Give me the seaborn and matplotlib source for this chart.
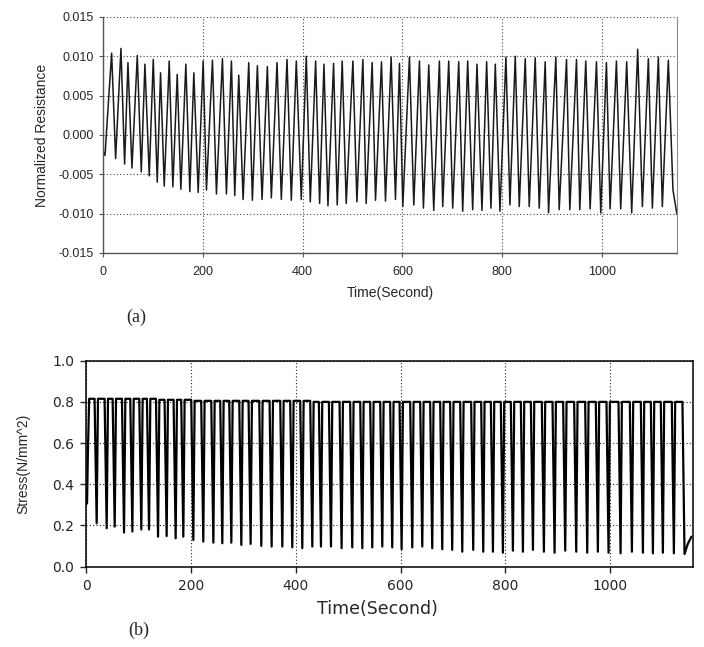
import matplotlib
matplotlib.use("Agg")
import matplotlib.pyplot as plt
import pandas as pd
import seaborn as sns
from matplotlib.ticker import FormatStrFormatter

# ─── DATA ───────────────────────────────────────────────────────────────────
# (a) normalized resistance: cycle peaks and troughs
res_peak_t = [17.3, 36, 50, 68.7, 84, 100.7, 115.3, 132.7, 148.7, 166,
              182, 200.7, 219.3, 239.3, 257.3, 272, 292, 309.3, 329.3, 348.7,
              368.7, 387.3, 407.3, 426, 442.7, 462, 479.3, 500.7, 520.7, 539.3,
              558, 577.3, 594, 614, 634, 652.7, 674, 692.7, 712.7, 730.7,
              749.3, 768.7, 786, 807.3, 826, 846, 866, 886, 907.3, 928.7,
              948.7, 967.3, 988.7, 1008.7, 1028.7, 1049.3, 1071.3, 1092.7, 1112.7, 1132.7]
res_peak_v = [0.0104, 0.0110, 0.0092, 0.0101, 0.0090, 0.0096, 0.0079, 0.0094, 0.0077, 0.0090,
              0.0079, 0.0094, 0.0095, 0.0097, 0.0094, 0.0076, 0.0092, 0.0088, 0.0087, 0.0092,
              0.0096, 0.0094, 0.0100, 0.0094, 0.0090, 0.0091, 0.0094, 0.0094, 0.0096, 0.0092,
              0.0093, 0.0099, 0.0091, 0.0099, 0.0094, 0.0089, 0.0094, 0.0094, 0.0093, 0.0094,
              0.0090, 0.0093, 0.0090, 0.0099, 0.0100, 0.0097, 0.0098, 0.0093, 0.0099, 0.0096,
              0.0096, 0.0094, 0.0093, 0.0092, 0.0094, 0.0093, 0.0109, 0.0097, 0.0099, 0.0095]
res_trough_t = [25.3, 43.3, 58, 76.7, 92.7, 108.7, 122.7, 140, 156, 174,
                190.7, 207.3, 227.3, 247.3, 264, 280.7, 299.3, 318.7, 337.3, 357.3,
                377.3, 397.3, 415.3, 434, 450.7, 469.3, 487.3, 508.7, 527.3, 546,
                566, 586, 600.7, 622.7, 642, 662.7, 680.7, 700.7, 720.7, 740.7,
                759.3, 777.3, 795.3, 815.3, 834, 854, 874, 892.7, 914, 935.3,
                955.3, 976, 997.3, 1016, 1037.3, 1059.3, 1080.7, 1100.7, 1120.7]
res_trough_v = [-0.0030, -0.0037, -0.0042, -0.0047, -0.0052, -0.0060, -0.0065, -0.0066, -0.0069, -0.0072,
                -0.0073, -0.0070, -0.0075, -0.0075, -0.0077, -0.0082, -0.0083, -0.0082, -0.0080, -0.0082,
                -0.0083, -0.0082, -0.0085, -0.0087, -0.0090, -0.0089, -0.0087, -0.0085, -0.0087, -0.0083,
                -0.0084, -0.0082, -0.0091, -0.0089, -0.0093, -0.0096, -0.0091, -0.0093, -0.0097, -0.0095,
                -0.0096, -0.0093, -0.0097, -0.0089, -0.0091, -0.0091, -0.0093, -0.0099, -0.0095, -0.0095,
                -0.0095, -0.0094, -0.0099, -0.0094, -0.0094, -0.0099, -0.0091, -0.0093, -0.0091]
res_start_t = [0.0, 4.0]
res_start_v = [-0.0020, -0.0026]
res_end_t = [1142.0, 1150.0]
res_end_v = [-0.0070, -0.0101]

# (b) stress: unloading dips and the loaded plateau of each cycle
stress_dip_t = [20.3, 39.4, 54.7, 72.5, 88.4, 105.5, 120.2, 137.4, 153.8, 171.0,
                185.6, 204.7, 223.7, 242.9, 260.0, 277.2, 296.3, 314.0, 334.4, 354.1,
                374.5, 393.5, 412.6, 431.7, 448.2, 467.3, 487.6, 507.9, 527.1, 546.1,
                565.2, 584.2, 602.1, 622.4, 641.5, 660.5, 679.6, 698.6, 717.8, 738.7,
                757.8, 776.3, 795.3, 814.4, 833.5, 852.6, 873.5, 893.9, 914.2, 935.2,
                956.2, 976.5, 996.9, 1019.8, 1041.4, 1062.4, 1081.5, 1100.5, 1121.5, 1141.8]
stress_dip_v = [0.210, 0.186, 0.194, 0.165, 0.170, 0.180, 0.180, 0.145, 0.148, 0.137,
                0.145, 0.129, 0.121, 0.116, 0.113, 0.116, 0.105, 0.110, 0.100, 0.097,
                0.097, 0.093, 0.089, 0.097, 0.097, 0.097, 0.089, 0.093, 0.089, 0.093,
                0.097, 0.093, 0.084, 0.093, 0.097, 0.089, 0.084, 0.081, 0.072, 0.081,
                0.072, 0.072, 0.067, 0.077, 0.072, 0.081, 0.072, 0.067, 0.077, 0.072,
                0.067, 0.072, 0.067, 0.064, 0.072, 0.067, 0.064, 0.067, 0.064, 0.061]
stress_top = [0.815, 0.815, 0.815, 0.815, 0.815, 0.815, 0.815, 0.815, 0.810, 0.810,
              0.810, 0.810, 0.805, 0.805, 0.805, 0.805, 0.805, 0.805, 0.805, 0.805,
              0.805, 0.805, 0.805, 0.805, 0.800, 0.800, 0.800, 0.800, 0.800, 0.800,
              0.800, 0.800, 0.800, 0.800, 0.800, 0.800, 0.800, 0.800, 0.800, 0.800,
              0.800, 0.800, 0.800, 0.800, 0.800, 0.800, 0.800, 0.800, 0.800, 0.800,
              0.800, 0.800, 0.800, 0.800, 0.800, 0.800, 0.800, 0.800, 0.800, 0.800]
stress_start_t = [0.0, 2.0, 3.5, 6.0]
stress_start_v = [0.30, 0.31, 0.55, 0.815]
stress_end_t = [1148.0, 1155.0]
stress_end_v = [0.11, 0.145]

RISE_S = 2.5   # seconds from dip up to the plateau
FALL_S = 4.0   # seconds from plateau down to the dip
# ─────────────────────────────────────────────────────────────────────────────


def resistance_trace():
    t, v = list(res_start_t), list(res_start_v)
    for i in range(len(res_peak_t)):
        t.append(res_peak_t[i])
        v.append(res_peak_v[i])
        if i < len(res_trough_t):
            t.append(res_trough_t[i])
            v.append(res_trough_v[i])
    t += res_end_t
    v += res_end_v
    return pd.DataFrame({"time": t, "value": v})


def stress_trace():
    t, v = list(stress_start_t), list(stress_start_v)
    for k in range(len(stress_dip_t)):
        if k > 0:
            t.append(stress_dip_t[k - 1] + RISE_S)
            v.append(stress_top[k])
        t.append(stress_dip_t[k] - FALL_S)
        v.append(stress_top[k])
        t.append(stress_dip_t[k])
        v.append(stress_dip_v[k])
    t += stress_end_t
    v += stress_end_v
    return pd.DataFrame({"time": t, "value": v})


sns.set_style("ticks")
plt.rcParams["axes.unicode_minus"] = False
plt.rcParams["font.family"] = ["Liberation Sans", "DejaVu Sans"]

fig = plt.figure(figsize=(7.04, 6.47), dpi=100)

# ── (a) resistance ──
ax1 = fig.add_axes([0.1463, 0.6090, 0.8153, 0.3648])
sns.lineplot(data=resistance_trace(), x="time", y="value", ax=ax1,
             sort=False, estimator=None, color="#1a1a1a", linewidth=1.1)
ax1.set_xlim(0, 1150)
ax1.set_ylim(-0.015, 0.015)
ax1.set_xticks([0, 200, 400, 600, 800, 1000])
ax1.set_yticks([-0.015, -0.010, -0.005, 0.0, 0.005, 0.010, 0.015])
ax1.yaxis.set_major_formatter(FormatStrFormatter("%.3f"))
ax1.set_axisbelow(True)
ax1.grid(True, linestyle=(0, (1, 2)), color="#444444", linewidth=0.8)
ax1.spines["top"].set_visible(False)
ax1.spines["right"].set_color("#8a8a8a")
for s in ("left", "bottom"):
    ax1.spines[s].set_color("#555555")
    ax1.spines[s].set_linewidth(1.0)
ax1.tick_params(axis="both", length=3, width=0.8, color="#555555", labelsize=9)
ax1.tick_params(axis="x", pad=6.5)
ax1.tick_params(axis="y", pad=3.8)
ax1.set_xlabel("Time(Second)", fontsize=10)
ax1.set_ylabel("Normalized Resistance", fontsize=10)
ax1.xaxis.set_label_coords(0.5, -0.171)
ax1.xaxis.label.set_va("center")
ax1.yaxis.set_label_coords(-0.107, 0.5)
ax1.yaxis.label.set_va("center")

# ── (b) stress ──
ax2 = fig.add_axes([0.1222, 0.1244, 0.8622, 0.3181])
sns.lineplot(data=stress_trace(), x="time", y="value", ax=ax2,
             sort=False, estimator=None, color="black", linewidth=1.6)
ax2.set_xlim(0, 1158)
ax2.set_ylim(0, 1.0)
ax2.set_xticks([0, 200, 400, 600, 800, 1000])
ax2.set_yticks([0.0, 0.2, 0.4, 0.6, 0.8, 1.0])
ax2.yaxis.set_major_formatter(FormatStrFormatter("%.1f"))
ax2.set_axisbelow(True)
ax2.grid(True, linestyle=(0, (1, 2)), color="#222222", linewidth=0.8)
for s in ax2.spines.values():
    s.set_color("black")
    s.set_linewidth(1.1)
ax2.tick_params(axis="both", length=4.3, width=1.0, pad=4.4)
for lab in ax2.get_xticklabels() + ax2.get_yticklabels():
    lab.set_family("DejaVu Sans")
    lab.set_fontsize(10)
ax2.set_xlabel("Time(Second)", fontsize=12.5, family="DejaVu Sans")
ax2.set_ylabel("Stress(N/mm^2)", fontsize=10)
ax2.xaxis.set_label_coords(0.4805, -0.2046)
ax2.xaxis.label.set_va("center")
ax2.yaxis.set_label_coords(-0.104, 0.499)
ax2.yaxis.label.set_va("center")

fig.text(0.1939, 0.5093, "(a)", family="Liberation Serif", fontsize=13,
         ha="center", va="center")
fig.text(0.197, 0.0263, "(b)", family="Liberation Serif", fontsize=13,
         ha="center", va="center")

fig.savefig("out.png", dpi=100)
plt.close(fig)
